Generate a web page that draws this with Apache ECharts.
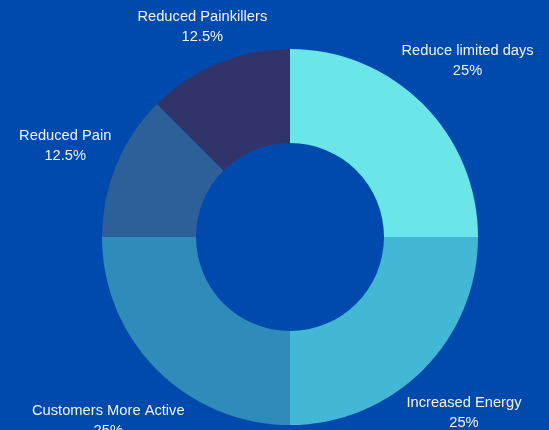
<!DOCTYPE html>
<html>
<head>
<meta charset="utf-8">
<script src="https://cdn.jsdelivr.net/npm/echarts@6/dist/echarts.min.js"></script>
<style>
html,body{margin:0;padding:0;background:#004AAD;}
#chart{width:549px;height:430px;}
</style>
</head>
<body>
<div id="chart"></div>
<script>
const categories = ["Reduce limited days", "Increased Energy", "Customers More Active", "Reduced Pain", "Reduced Painkillers"];
const values = [25, 25, 25, 12.5, 12.5];
const colors = ["#6AE5E8", "#42B8D6", "#2E8BBA", "#2D5F99", "#31346B"];

const CX = 290, CY = 237, R_IN = 94, R_OUT = 188, GAP = 5, LABEL_DY = 2;
const total = values.reduce((a, b) => a + b, 0);

function midAngle(i) {
  let before = 0;
  for (let k = 0; k < i; k++) before += values[k];
  return ((before + values[i] / 2) / total) * 2 * Math.PI; // clockwise from top
}

const chart = echarts.init(document.getElementById('chart'), null, {renderer: 'canvas'});
chart.setOption({
  backgroundColor: '#004AAD',
  animation: false,
  series: [{
    type: 'pie',
    center: [CX, CY],
    radius: [R_IN, R_OUT],
    startAngle: 90,
    clockwise: true,
    avoidLabelOverlap: false,
    data: categories.map((c, i) => ({name: c, value: values[i], itemStyle: {color: colors[i]}})),
    label: {
      show: true,
      position: 'outside',
      color: '#F2F2F2',
      fontFamily: 'Liberation Sans, Arial, sans-serif',
      fontSize: 14.7,
      lineHeight: 20,
      align: 'center',
      formatter: p => p.name + '\n' + (p.value / total * 100) + '%'
    },
    labelLine: {show: false},
    labelLayout: function (params) {
      const a = midAngle(params.dataIndex);
      const ux = Math.sin(a), uy = -Math.cos(a);
      const w = params.labelRect.width, h = params.labelRect.height;
      const vx = Math.sign(ux) * w / 2, vy = Math.sign(uy) * h / 2;
      const R0 = R_OUT + GAP;
      const uv = ux * vx + uy * vy;
      const d = uv + Math.sqrt(uv * uv - (vx * vx + vy * vy) + R0 * R0);
      return {x: CX + ux * d, y: CY + uy * d + LABEL_DY, align: 'center', verticalAlign: 'middle'};
    },
    emphasis: {disabled: true}
  }]
});
</script>
</body>
</html>
